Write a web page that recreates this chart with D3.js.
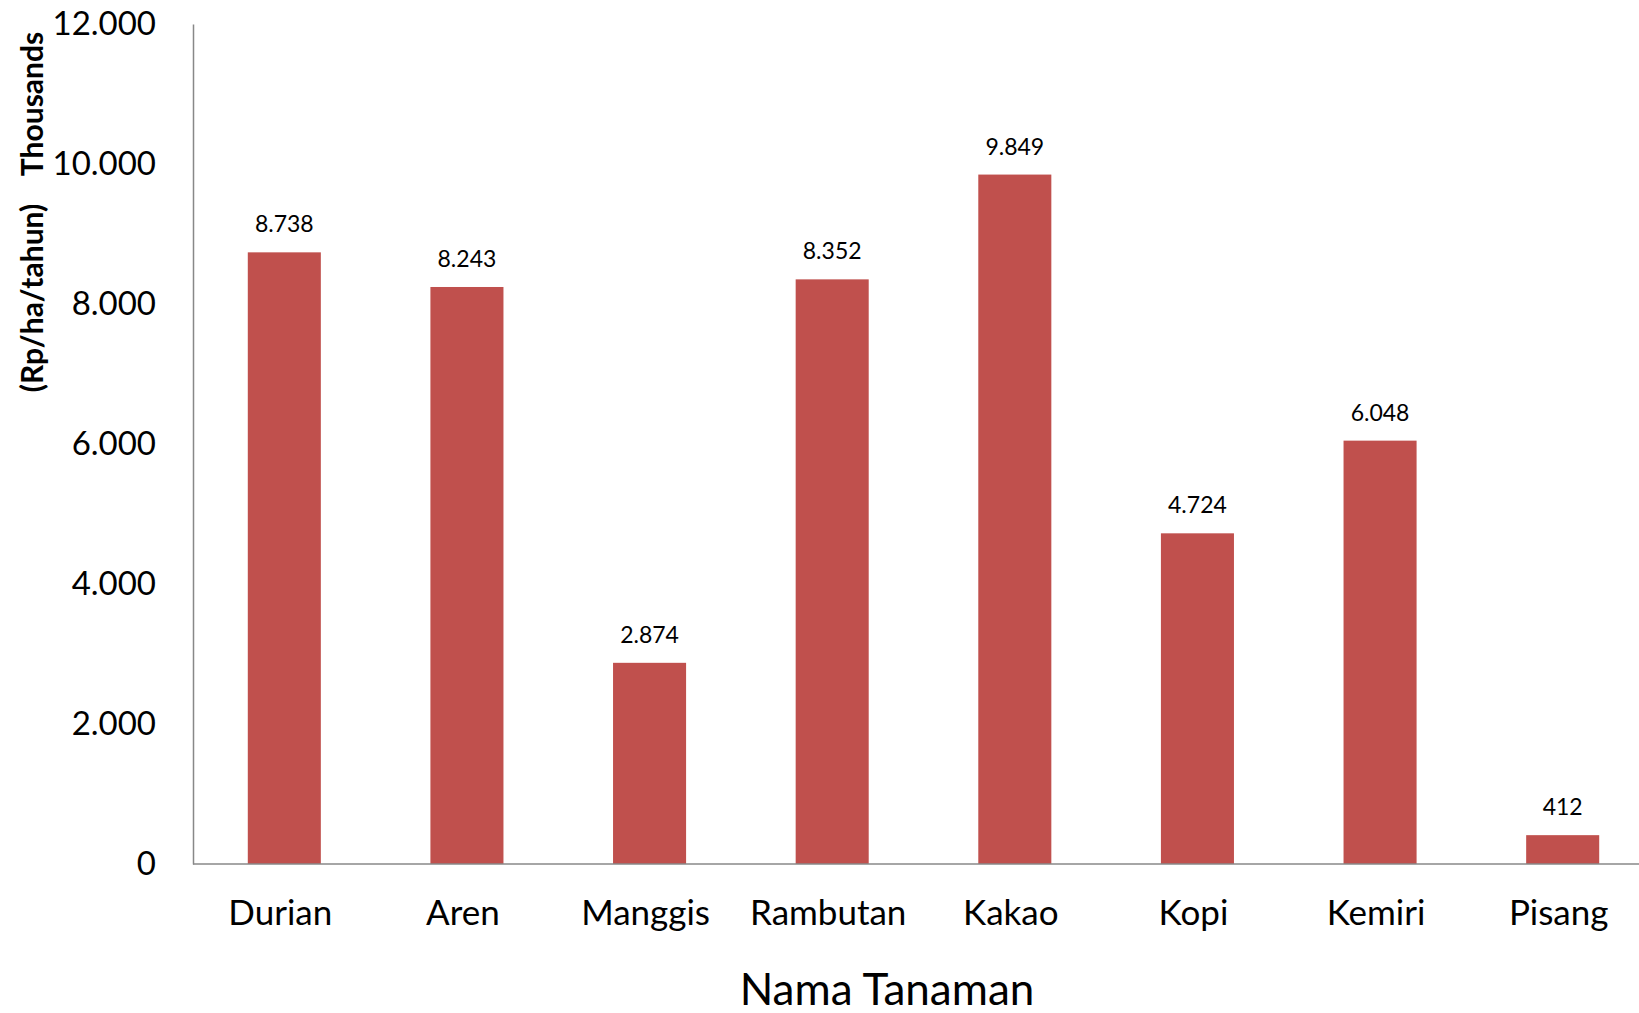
<!DOCTYPE html>
<html lang="en">
<head>
    <meta charset="UTF-8">
    <title>Nama Tanaman</title>
    <script src="https://d3js.org/d3.v7.min.js"></script>
    <style>
        body { margin: 0; background: #fff; overflow: hidden; font-family: Lato, "Open Sans", sans-serif; }
    </style>
</head>
<body>
    <div id="chart"></div>
    <script>
        const categories = ["Durian", "Aren", "Manggis", "Rambutan", "Kakao", "Kopi", "Kemiri", "Pisang"];
        const values = [8738, 8243, 2874, 8352, 9849, 4724, 6048, 412];
        const yTicks = [0, 2000, 4000, 6000, 8000, 10000, 12000];

        const width = 1639, height = 1013;
        const svg = d3.select("#chart").append("svg")
            .attr("width", width)
            .attr("height", height);

        const fmt = d3.formatLocale({ decimal: ",", thousands: ".", grouping: [3], currency: ["", ""] }).format(",d");

        const x = d3.scaleBand().domain(categories).range([193, 1654]).paddingInner(0.6).paddingOuter(0.3);
        const y = d3.scaleLinear().domain([0, 12000]).range([864, 24]);

        // y axis: line + labels only
        const yAxis = svg.append("g")
            .attr("transform", "translate(193,0)")
            .call(d3.axisLeft(y).tickValues(yTicks).tickSize(0).tickPadding(37).tickFormat(fmt));
        yAxis.select(".domain").attr("stroke", "#888").attr("stroke-width", 1.5);
        yAxis.selectAll("text").attr("font-size", 33).attr("font-family", "Lato, sans-serif").attr("fill", "#000");

        // bars
        svg.selectAll("rect.bar")
            .data(categories)
            .enter().append("rect")
            .attr("class", "bar")
            .attr("x", d => x(d))
            .attr("width", x.bandwidth())
            .attr("y", (d, i) => y(values[i]))
            .attr("height", (d, i) => y(0) - y(values[i]))
            .attr("fill", "#C0504D");

        // value labels
        svg.selectAll("text.val")
            .data(categories)
            .enter().append("text")
            .attr("class", "val")
            .attr("x", d => x(d) + x.bandwidth() / 2)
            .attr("y", (d, i) => y(values[i]) - 20)
            .attr("text-anchor", "middle")
            .attr("font-size", 23)
            .text((d, i) => fmt(values[i]));

        // x baseline
        svg.append("line")
            .attr("x1", 193).attr("x2", width)
            .attr("y1", y(0)).attr("y2", y(0))
            .attr("stroke", "#888").attr("stroke-width", 1.5);

        // category labels
        svg.selectAll("text.cat")
            .data(categories)
            .enter().append("text")
            .attr("class", "cat")
            .attr("x", d => x(d) + x.bandwidth() / 2 - 4)
            .attr("y", 925)
            .attr("text-anchor", "middle")
            .attr("font-size", 35)
            .text(d => d);

        // axis titles
        svg.append("text")
            .attr("x", 887).attr("y", 1005)
            .attr("text-anchor", "middle")
            .attr("font-size", 44)
            .text("Nama Tanaman");

        svg.append("text")
            .attr("transform", "translate(31,298) rotate(-90)")
            .attr("text-anchor", "middle")
            .attr("dominant-baseline", "central")
            .attr("font-size", 30)
            .attr("font-weight", "bold")
            .text("(Rp/ha/tahun)");

        svg.append("text")
            .attr("transform", "translate(31,104) rotate(-90)")
            .attr("text-anchor", "middle")
            .attr("dominant-baseline", "central")
            .attr("font-size", 30)
            .attr("font-weight", "bold")
            .text("Thousands");
    </script>
</body>
</html>
